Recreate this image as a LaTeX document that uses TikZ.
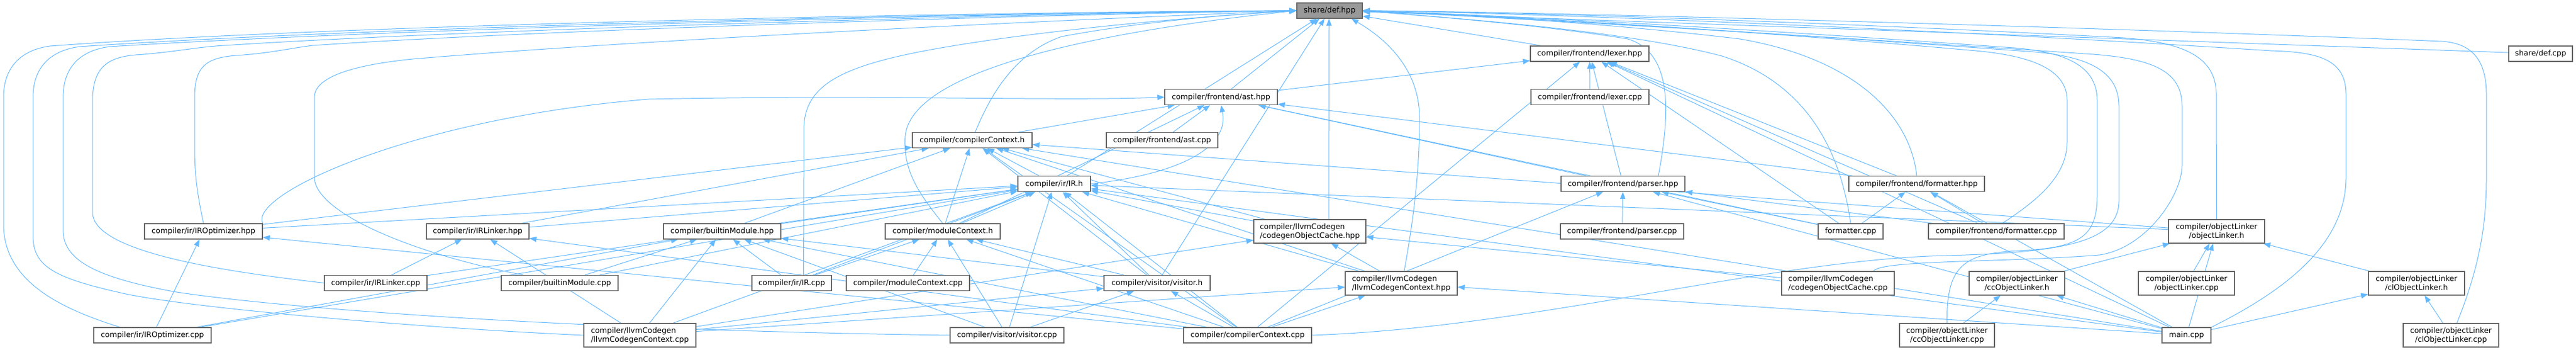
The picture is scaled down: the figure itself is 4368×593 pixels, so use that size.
\documentclass[tikz,border=0pt]{standalone}
\usepackage{fontspec}
\setmainfont{DejaVu Sans}
\usetikzlibrary{arrows.meta}
\pgfdeclarelayer{edges}
\pgfsetlayers{edges,main}
\definecolor{edgecol}{HTML}{63B8FF}
\definecolor{nodeborder}{HTML}{666666}
\definecolor{deffill}{HTML}{999999}
\begin{document}
\begin{tikzpicture}[x=1pt,y=-1pt,
  box/.style={draw=nodeborder, fill=white, line width=1.2pt, inner sep=0pt,
    minimum height=26pt, font=\fontsize{12.8}{15}\selectfont, text=black},
  twoc/.style={box, minimum height=40pt, align=center},
  twol/.style={box, minimum height=40pt, align=left},
  rootbox/.style={box, fill=deffill},
  edge/.style={color=edgecol, line width=1pt, -{Triangle[length=12pt,width=9pt]}}]
\useasboundingbox (0,0) rectangle (4368,593);

% rank 0-2
\node[rootbox, minimum width=111pt] (def) at (2254.5,18) {share/def.hpp};
\node[box, minimum width=201pt] (lexer) at (2695.5,91) {compiler/frontend/lexer.hpp};
\node[box, minimum width=108pt] (defcpp) at (4308,91) {share/def.cpp};
\node[box, minimum width=191pt] (ast) at (2070.5,164.5) {compiler/frontend/ast.hpp};
\node[box, minimum width=200pt] (lexercpp) at (2696,164.5) {compiler/frontend/lexer.cpp};
\node[box, minimum width=203pt] (cch) at (1648.5,237.5) {compiler/compilerContext.h};
\node[box, minimum width=189pt] (astcpp) at (1970.5,237.5) {compiler/frontend/ast.cpp};
% rank 3
\node[box, minimum width=123pt] (irh) at (1787.5,311.5) {compiler/ir/IR.h};
\node[box, minimum width=210pt] (parserh) at (2752,311.5) {compiler/frontend/parser.hpp};
\node[box, minimum width=230pt] (fmth) at (3250,311.5) {compiler/frontend/formatter.hpp};
% rank 4
\node[box, minimum width=200pt] (irohpp) at (345,392) {compiler/ir/IROptimizer.hpp};
\node[box, minimum width=174pt] (irlhpp) at (810,392) {compiler/ir/IRLinker.hpp};
\node[box, minimum width=199pt] (bmhpp) at (1224.5,392) {compiler/builtinModule.hpp};
\node[box, minimum width=195pt] (mch) at (1598.5,392) {compiler/moduleContext.h};
\node[twol, minimum width=190pt] (cochpp) at (2221,392) {compiler/llvmCodegen\\/codegenObjectCache.hpp};
\node[box, minimum width=209pt] (parsercpp) at (2750.5,392) {compiler/frontend/parser.cpp};
\node[box, minimum width=110pt] (formattercpp) at (3138,392) {formatter.cpp};
\node[box, minimum width=230pt] (fmtcpp) at (3385,392) {compiler/frontend/formatter.cpp};
\node[twoc, minimum width=163pt] (olh) at (3758.5,392) {compiler/objectLinker\\/objectLinker.h};
% rank 5
\node[box, minimum width=174pt] (irlcpp) at (637,479.5) {compiler/ir/IRLinker.cpp};
\node[box, minimum width=198pt] (bmcpp) at (949,479.5) {compiler/builtinModule.cpp};
\node[box, minimum width=135pt] (ircpp) at (1342.5,479.5) {compiler/ir/IR.cpp};
\node[box, minimum width=209pt] (mccpp) at (1539.5,479.5) {compiler/moduleContext.cpp};
\node[box, minimum width=180pt] (vish) at (1962,479.5) {compiler/visitor/visitor.h};
\node[twol, minimum width=190pt] (lcchpp) at (2376,480) {compiler/llvmCodegen\\/llvmCodegenContext.hpp};
\node[twol, minimum width=191pt] (coccpp) at (3116.5,480) {compiler/llvmCodegen\\/codegenObjectCache.cpp};
\node[twoc, minimum width=162pt] (cclh) at (3420,480) {compiler/objectLinker\\/ccObjectLinker.h};
\node[twoc, minimum width=163pt] (olcpp) at (3707.5,480) {compiler/objectLinker\\/objectLinker.cpp};
\node[twoc, minimum width=163pt] (clolh) at (4097.5,480) {compiler/objectLinker\\/clObjectLinker.h};
% rank 6
\node[box, minimum width=199pt] (irocpp) at (258.5,568) {compiler/ir/IROptimizer.cpp};
\node[twol, minimum width=190pt] (lcccpp) at (1085,568) {compiler/llvmCodegen\\/llvmCodegenContext.cpp};
\node[box, minimum width=193pt] (viscpp) at (1707.5,568) {compiler/visitor/visitor.cpp};
\node[box, minimum width=217pt] (cccpp) at (2115.5,568) {compiler/compilerContext.cpp};
\node[twoc, minimum width=161pt] (cclcpp) at (3301.5,568) {compiler/objectLinker\\/ccObjectLinker.cpp};
\node[box, minimum width=83pt] (maincpp) at (3707.5,568) {main.cpp};
\node[twoc, minimum width=162pt] (clolcpp) at (4156,568) {compiler/objectLinker\\/clObjectLinker.cpp};

\begin{pgfonlayer}{edges}
% straight connectors
\foreach \src/\tgt in {
  lexercpp/lexer, ast/lexer, parserh/lexer, fmth/lexer, formattercpp/lexer,
  fmtcpp/lexer, maincpp/lexer, cccpp/lexer,
  astcpp/ast, cch/ast, parserh/ast, fmth/ast, mch/ast, formattercpp/ast,
  irh/cch, irohpp/cch, irlhpp/cch, bmhpp/cch, mch/cch, vish/cch, cochpp/cch,
  lcchpp/cch, olh/cch, maincpp/cch, cccpp/cch,
  irohpp/irh, irlhpp/irh, bmhpp/irh, mch/irh, vish/irh, cochpp/irh, lcchpp/irh,
  irocpp/irh, irlcpp/irh, bmcpp/irh, ircpp/irh, viscpp/irh, cccpp/irh,
  lcccpp/irh, maincpp/irh, olh/irh,
  parsercpp/parserh, formattercpp/parserh, maincpp/parserh, cccpp/parserh, fmtcpp/parserh,
  fmtcpp/fmth, formattercpp/fmth, maincpp/fmth,
  irocpp/irohpp, cccpp/irohpp,
  irlcpp/irlhpp, cccpp/irlhpp, lcccpp/irlhpp,
  ircpp/bmhpp, vish/bmhpp, bmcpp/bmhpp, lcccpp/bmhpp, viscpp/bmhpp, cccpp/bmhpp, irocpp/bmhpp,
  ircpp/mch, mccpp/mch, viscpp/mch, cccpp/mch, vish/mch,
  lcccpp/vish, viscpp/vish, cccpp/vish,
  lcchpp/cochpp, coccpp/cochpp, lcccpp/cochpp,
  maincpp/lcchpp, lcccpp/lcchpp, cccpp/lcchpp,
  cclh/olh, olcpp/olh, maincpp/olh, clolh/olh,
  cclcpp/cclh, maincpp/cclh,
  clolcpp/clolh, maincpp/clolh,
  lexer/def, ast/def, irh/def, vish/def, defcpp/def}
  \draw[edge] (\src) -- (\tgt);

\draw[edge] ([xshift=32pt]cochpp.north) -- ([xshift=-1pt]def.south);

% long loops on the left into share/def.hpp
\draw[edge] ([xshift=-55pt]irocpp.north) .. controls (110,525) and (6,480) .. (6,380)
  -- (6,165) .. controls (6,110) and (40,84) .. (85,78)
  .. controls (600,40) and (1700,20) .. (def.west);
\draw[edge] (lcccpp.west) .. controls (700,555) and (300,520) .. (200,495)
  .. controls (90,470) and (56,450) .. (56,400) -- (56,165)
  .. controls (56,110) and (90,85) .. (135,79)
  .. controls (650,44) and (1700,21) .. (def.west);
\draw[edge] (viscpp.west) .. controls (1000,560) and (500,525) .. (300,495)
  .. controls (160,470) and (107,440) .. (107,390) -- (107,165)
  .. controls (107,110) and (140,85) .. (186,79)
  .. controls (700,47) and (1700,22) .. (def.west);
\draw[edge] (irlcpp.west) .. controls (400,462) and (157,430) .. (157,360) -- (157,170)
  .. controls (157,112) and (185,97) .. (230,93)
  .. controls (300,88) and (330,80) .. (380,77)
  .. controls (800,50) and (1700,24) .. (def.west);
\draw[edge] (irohpp.north) .. controls (335,330) and (330,300) .. (330,250) -- (330,165)
  .. controls (330,112) and (350,98) .. (400,94)
  .. controls (460,90) and (490,82) .. (530,77)
  .. controls (900,52) and (1700,26) .. (def.west);
\draw[edge] ([xshift=-62pt]bmcpp.north) .. controls (700,430) and (533,360) .. (533,300)
  -- (533,165) .. controls (533,130) and (600,110) .. (700,100)
  .. controls (1100,66) and (1800,34) .. (def.west);
\draw[edge] ([xshift=20pt]ircpp.north) .. controls (1363,330) .. (1363,220)
  .. controls (1363,130) and (1450,100) .. (1700,65)
  .. controls (1900,38) and (2100,24) .. (def.west);
\draw[edge] (mch.north) .. controls (1560,330) and (1530,290) .. (1535,230)
  .. controls (1545,130) and (1800,60) .. (def.west);
\draw[edge] ([xshift=5pt]cch.north) .. controls (1680,160) and (1720,90) .. (1800,62)
  .. controls (1950,34) and (2100,24) .. (def.west);
\draw[edge] (irohpp.north east) .. controls (420,330) and (700,200) .. (1100,168)
  .. controls (1500,160) and (1800,172) .. (ast.west);
\draw[edge] (irh.east) .. controls (2000,295) and (2085,250) .. (ast.south);

% loops into share/def.hpp from below and right
\draw[edge] ([xshift=5pt]lcchpp.north) .. controls (2395,380) and (2407,300) .. (2407,200)
  .. controls (2407,110) and (2340,60) .. ([xshift=37pt]def.south);
\draw[edge] ([xshift=60pt]parserh.north) .. controls (2830,200) and (2840,90) .. (2760,66)
  .. controls (2600,40) and (2400,26) .. (def.east);
\draw[edge] (fmth.north) .. controls (3240,200) and (3150,100) .. (2950,66)
  .. controls (2700,36) and (2450,24) .. (def.east);
\draw[edge] (formattercpp.north) .. controls (3120,250) and (3060,140) .. (2920,95)
  .. controls (2750,50) and (2450,30) .. (def.east);
\draw[edge] ([xshift=10pt]fmtcpp.north) .. controls (3470,330) and (3505,290) .. (3505,240)
  -- (3505,170) .. controls (3505,120) and (3450,95) .. (3350,86)
  .. controls (2900,46) and (2500,25) .. (def.east);
\draw[edge] (cclcpp.north) .. controls (3300,450) and (3330,430) .. (3420,425)
  .. controls (3530,420) and (3556,400) .. (3556,330) -- (3556,170)
  .. controls (3556,110) and (3500,86) .. (3400,80)
  .. controls (2900,44) and (2500,24) .. (def.east);
\draw[edge] (cccpp.east) .. controls (2600,555) and (3000,440) .. (3300,433)
  .. controls (3500,428) and (3593,410) .. (3593,340) -- (3593,180)
  .. controls (3593,120) and (3540,96) .. (3450,88)
  .. controls (2900,48) and (2500,26) .. (def.east);
\draw[edge] ([xshift=60pt]coccpp.north) .. controls (3190,440) and (3400,445) .. (3560,432)
  .. controls (3640,420) and (3700,330) .. (3700,280) -- (3700,180)
  .. controls (3700,120) and (3650,100) .. (3550,92)
  .. controls (3000,55) and (2500,28) .. (def.east);
\draw[edge] (olh.north) -- (3758,160) .. controls (3758,95) and (3700,72) .. (3600,64)
  .. controls (3000,32) and (2500,20) .. (def.east);
\draw[edge] (maincpp.north east) .. controls (3900,480) and (3978,400) .. (3978,300)
  -- (3978,160) .. controls (3978,100) and (3930,88) .. (3850,86)
  .. controls (3300,50) and (2600,22) .. (def.east);
\draw[edge] ([xshift=10pt]clolcpp.north) .. controls (4205,450) and (4216,380) .. (4216,300)
  -- (4216,160) .. controls (4216,100) and (4190,73) .. (4140,70)
  .. controls (3500,44) and (2600,20) .. (def.east);
\end{pgfonlayer}
\end{tikzpicture}
\end{document}
